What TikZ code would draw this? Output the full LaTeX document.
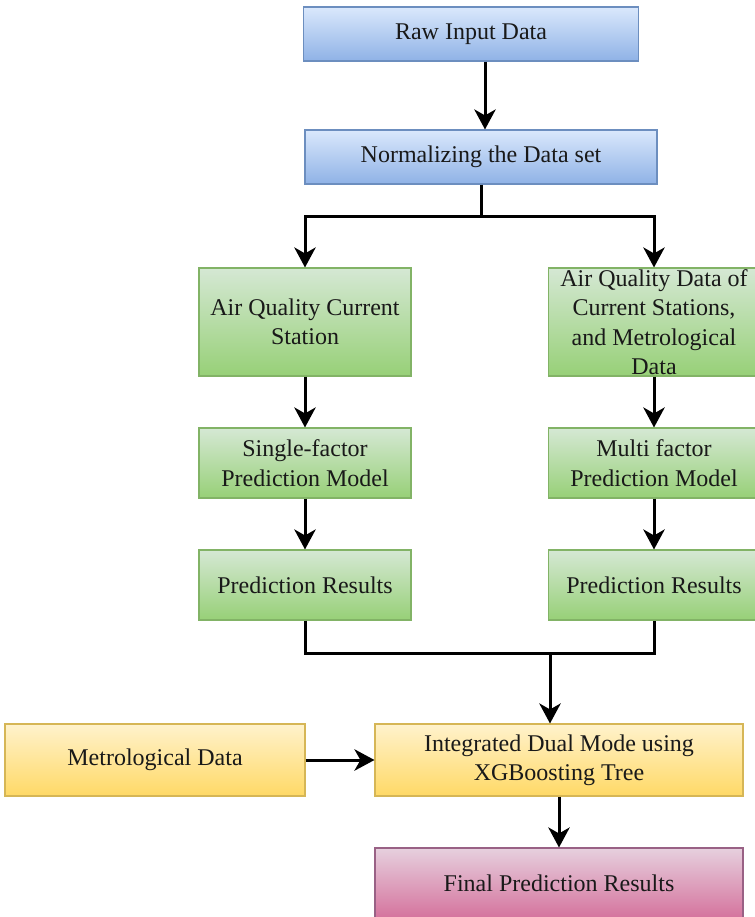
\documentclass[tikz,border=0pt]{standalone}
\usepackage{fontspec}
\setmainfont{Liberation Serif}
\usetikzlibrary{arrows.meta}

\definecolor{bluetop}{HTML}{DAE8FC}
\definecolor{bluebot}{HTML}{8FB2E6}
\definecolor{blueline}{HTML}{6C8EBF}
\definecolor{greentop}{HTML}{D5E8D4}
\definecolor{greenbot}{HTML}{97D077}
\definecolor{greenline}{HTML}{82B366}
\definecolor{yellowtop}{HTML}{FFF2CC}
\definecolor{yellowbot}{HTML}{FFD966}
\definecolor{yellowline}{HTML}{D6B656}
\definecolor{pinktop}{HTML}{E6D0DE}
\definecolor{pinkbot}{HTML}{D5739D}
\definecolor{pinkline}{HTML}{996185}

\tikzset{
  box/.style={draw,line width=0.8pt,align=center,inner sep=2pt,
    text=black!90,font=\fontsize{18}{22}\selectfont},
  bluebox/.style={box,draw=blueline,top color=bluetop,bottom color=bluebot},
  greenbox/.style={box,draw=greenline,top color=greentop,bottom color=greenbot},
  yellowbox/.style={box,draw=yellowline,top color=yellowtop,bottom color=yellowbot},
  pinkbox/.style={box,draw=pinkline,top color=pinktop,bottom color=pinkbot},
  arr/.style={line width=2.25pt,-{Stealth[length=15pt,width=16pt,inset=4.5pt]}},
  link/.style={line width=2.25pt}
}

\begin{document}
\begin{tikzpicture}[x=0.75pt,y=-0.75pt]
      \useasboundingbox (0,0) rectangle (754,917);
      % Preprocessing
      \node[bluebox,minimum width=251pt,minimum height=40.5pt] (raw) at (471,34) {Raw Input Data};
      \node[bluebox,minimum width=264pt,minimum height=40.5pt] (norm) at (481,157) {Normalizing the Data set};
      \draw[arr] ([xshift=3pt]raw.south -| norm) -- ([xshift=3pt]norm.north);
      % Two branches
      \node[greenbox,minimum width=159pt,minimum height=81pt] (aqc) at (305,322) {Air Quality Current\\Station};
      \node[greenbox,minimum width=158pt,minimum height=81pt,inner ysep=0pt] (aqd) at (654,322)
        {Air Quality Data of\\Current Stations,\\and Metrological\\Data};
      \coordinate (split) at (481,216);
      \draw[link] (norm.south) -- (split);
      \draw[arr] (split) -| (aqc.north);
      \draw[arr] (split) -| (aqd.north);
      \node[greenbox,minimum width=159pt,minimum height=52.5pt] (sfm) at (305,463) {Single-factor\\Prediction Model};
      \node[greenbox,minimum width=158pt,minimum height=52.5pt] (mfm) at (654,463) {Multi factor\\Prediction Model};
      \node[greenbox,minimum width=159pt,minimum height=52.5pt] (pr1) at (305,585) {Prediction Results};
      \node[greenbox,minimum width=158pt,minimum height=52.5pt] (pr2) at (654,585) {Prediction Results};
      \foreach \a/\b in {aqc/sfm, sfm/pr1, aqd/mfm, mfm/pr2}{
        \draw[arr] (\a) -- (\b);
      }
      % Fusion
      \node[yellowbox,minimum width=225pt,minimum height=54pt] (met) at (155,760) {Metrological Data};
      \node[yellowbox,minimum width=276pt,minimum height=54pt] (idm) at (559,760) {Integrated Dual Mode using\\XGBoosting Tree};
      \node[pinkbox,minimum width=276pt,minimum height=52.5pt] (fin) at (559,883) {Final Prediction Results};
      \coordinate (merge) at (550,653);
      \draw[link] (pr1.south) |- (pr2.south |- merge) -- (pr2.south);
      \draw[arr] (merge) -- (merge |- idm.north);
      \draw[arr] (met) -- (idm);
      \draw[arr] (idm) -- (fin);
    \end{tikzpicture}
\end{document}
